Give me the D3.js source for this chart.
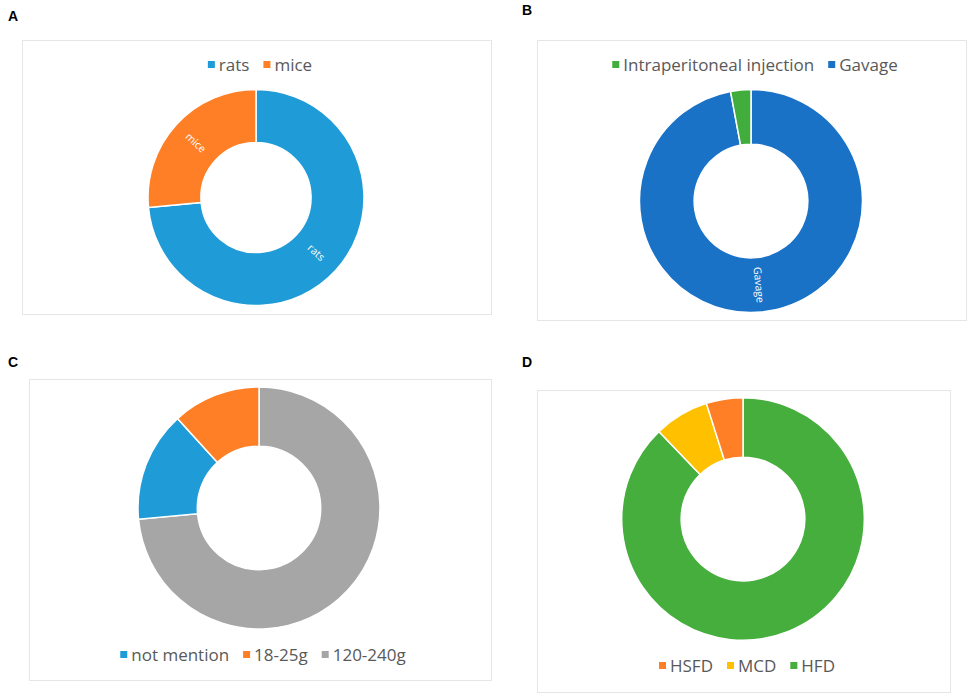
<!DOCTYPE html>
<html>
<head>
<meta charset="utf-8">
<script src="https://cdn.jsdelivr.net/npm/d3@7"></script>
<style>
  body { margin: 0; background: #fff; }
  svg { display: block; font-family: "Open Sans", "Noto Sans", sans-serif; }
</style>
</head>
<body>
<svg id="chart" width="969" height="694"></svg>
<script>
// slices listed clockwise from 12 o'clock, legends listed as in the picture
var speciesCats = ["rats", "mice"];
var speciesVals = [25, 9];
var speciesLegend = ["rats", "mice"];

var routeCats = ["Gavage", "Intraperitoneal injection"];
var routeVals = [33, 1];
var routeLegend = ["Intraperitoneal injection", "Gavage"];

var weightCats = ["120-240g", "not mention", "18-25g"];
var weightVals = [25, 5, 4];
var weightLegend = ["not mention", "18-25g", "120-240g"];

var dietCats = ["HFD", "MCD", "HSFD"];
var dietVals = [36, 3, 2];
var dietLegend = ["HSFD", "MCD", "HFD"];

var colors = {
  "rats": "#1f9bd7", "mice": "#fe7f26",
  "Gavage": "#1a72c7", "Intraperitoneal injection": "#41ad3c",
  "not mention": "#1f9bd7", "18-25g": "#fe7f26", "120-240g": "#a6a6a6",
  "HSFD": "#fe7f26", "MCD": "#ffc000", "HFD": "#45ae3d"
};

var panels = [
  { tag: "A", tx: 8, ty: 16, box: [22, 40, 491, 314], cx: 256, cy: 197.5, r: 108,
    cats: speciesCats, vals: speciesVals, legend: speciesLegend, legendY: 65, labels: true },
  { tag: "B", tx: 522, ty: 10, box: [537, 40, 966, 320], cx: 751, cy: 201, r: 111.5,
    cats: routeCats, vals: routeVals, legend: routeLegend, legendY: 65, labels: true },
  { tag: "C", tx: 8, ty: 362, box: [29, 379, 491, 680], cx: 259, cy: 508, r: 121,
    cats: weightCats, vals: weightVals, legend: weightLegend, legendY: 655, labels: false },
  { tag: "D", tx: 522, ty: 362, box: [537, 390, 950, 692], cx: 743, cy: 519, r: 121.3,
    cats: dietCats, vals: dietVals, legend: dietLegend, legendY: 666, labels: false }
];

var svg = d3.select("#chart");

panels.forEach(function (p) {
  // panel letter
  svg.append("text")
    .attr("x", p.tx).attr("y", p.ty)
    .attr("dy", "0.35em")
    .attr("font-family", "Liberation Sans, Arial, sans-serif")
    .attr("font-weight", "bold")
    .attr("font-size", 14)
    .attr("fill", "#000")
    .text(p.tag);

  // chart frame
  svg.append("rect")
    .attr("x", p.box[0] + 0.5).attr("y", p.box[1] + 0.5)
    .attr("width", p.box[2] - p.box[0]).attr("height", p.box[3] - p.box[1])
    .attr("fill", "#fff")
    .attr("stroke", "#e6e6e6")
    .attr("stroke-width", 1);

  var data = p.cats.map(function (c, i) { return { name: c, value: p.vals[i] }; });
  var pie = d3.pie().sort(null).value(function (d) { return d.value; });
  var arc = d3.arc().innerRadius(p.r * 0.51).outerRadius(p.r);
  var labelArc = d3.arc().innerRadius(p.r * 0.755).outerRadius(p.r * 0.755);

  var g = svg.append("g").attr("transform", "translate(" + p.cx + "," + p.cy + ")");

  g.selectAll("path.slice")
    .data(pie(data))
    .enter().append("path")
    .attr("class", "slice")
    .attr("d", arc)
    .attr("fill", function (d) { return colors[d.data.name]; })
    .attr("stroke", "#fff")
    .attr("stroke-width", 1.5);

  if (p.labels) {
    // radial labels, only on slices large enough to hold them
    g.selectAll("text.lbl")
      .data(pie(data).filter(function (d) { return d.endAngle - d.startAngle > 0.3; }))
      .enter().append("text")
      .attr("class", "lbl")
      .attr("transform", function (d) {
        var c = labelArc.centroid(d);
        var a = (d.startAngle + d.endAngle) / 2 * 180 / Math.PI;
        var rot = a - 90;
        if (rot > 90) rot -= 180;
        return "translate(" + c[0] + "," + c[1] + ") rotate(" + rot + ")";
      })
      .attr("text-anchor", "middle")
      .attr("dy", "0.35em")
      .attr("font-size", 10.5)
      .attr("fill", "#fff")
      .text(function (d) { return d.data.name; });
  }

  // legend, centred on the donut
  var lg = svg.append("g");
  var items = lg.selectAll("g.item")
    .data(p.legend)
    .enter().append("g")
    .attr("class", "item");
  items.append("rect")
    .attr("width", 7).attr("height", 7)
    .attr("y", -4)
    .attr("fill", function (d) { return colors[d]; });
  items.append("text")
    .attr("x", 11)
    .attr("dy", "0.35em")
    .attr("font-size", 17)
    .attr("fill", "#595959")
    .text(function (d) { return d; });

  var xPos = 0;
  items.each(function () {
    var w = d3.select(this).select("text").node().getComputedTextLength();
    d3.select(this).attr("transform", "translate(" + xPos + ",0)");
    xPos += 11 + w + 14;
  });
  var total = xPos - 14;
  lg.attr("transform", "translate(" + (p.cx + 4 - total / 2) + "," + p.legendY + ")");
});
</script>
</body>
</html>
